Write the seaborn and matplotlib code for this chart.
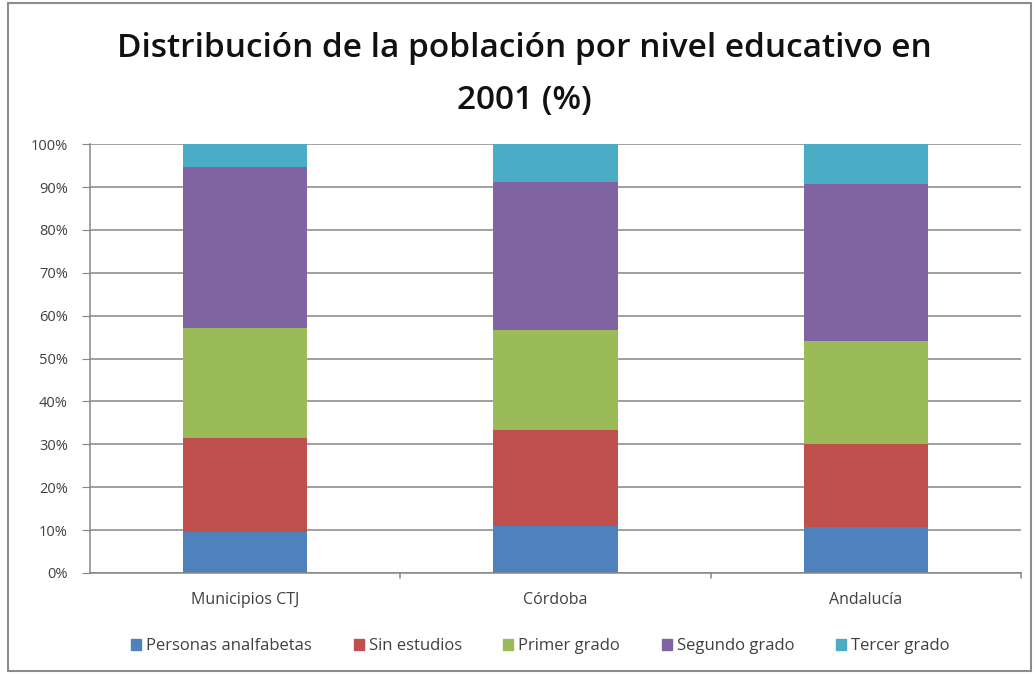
import numpy as np
import pandas as pd
import matplotlib
matplotlib.use('Agg')
import matplotlib.pyplot as plt
import matplotlib.patches as mpatches
from matplotlib.ticker import FixedLocator, PercentFormatter
import seaborn as sns

# data (percent of population)
zonas = ['Municipios CTJ', 'Córdoba', 'Andalucía']
niveles = ['Personas analfabetas', 'Sin estudios', 'Primer grado', 'Segundo grado', 'Tercer grado']
analfabetas = [9.6, 10.9, 10.8]
sin_estudios = [21.8, 22.4, 19.2]
primer_grado = [25.8, 23.4, 24.2]
segundo_grado = [37.6, 34.6, 36.5]
tercer_grado = [5.2, 8.7, 9.3]

colores = ['#4F81BD', '#C0504D', '#9BBB59', '#8064A2', '#4BACC6']

sns.set_style('white')
plt.rcParams['font.family'] = ['Open Sans', 'DejaVu Sans']

series = [analfabetas, sin_estudios, primer_grado, segundo_grado, tercer_grado]
df = pd.DataFrame({'zona': zonas})
for name, vals in zip(niveles, series):
	df[name] = vals

fig = plt.figure(figsize=(10.35, 6.74), dpi=100)
ax = fig.add_axes([0.087, 0.150, 0.8995, 0.636])

bottom = np.zeros(len(zonas))
for name, col in zip(niveles, colores):
	sns.barplot(x='zona', y=name, data=df, color=col, width=0.4, bottom=bottom, ax=ax,
		saturation=1, linewidth=0, legend=False)
	bottom = bottom + df[name].values

ax.set_ylim(0, 100)
ax.set_xlim(-0.5, 2.5)
ax.yaxis.set_major_locator(FixedLocator(np.arange(0, 101, 10)))
ax.yaxis.set_major_formatter(PercentFormatter(decimals=0))
ax.grid(axis='y', color='#868686', linewidth=1.1)
ax.set_axisbelow(True)
ax.set_xlabel('')
ax.set_ylabel('')
for s in ['top', 'right']:
	ax.spines[s].set_visible(False)
for s in ['left', 'bottom']:
	ax.spines[s].set_color('#868686')
	ax.spines[s].set_linewidth(1.1)
ax.tick_params(axis='y', left=True, length=6, color='#868686', labelsize=10.5, labelcolor='#404040', pad=10)
ax.tick_params(axis='x', bottom=False, labelsize=11.5, labelcolor='#404040', pad=10)
for xb in [0.5, 1.5, 2.5]:
	ax.plot([xb, xb], [0, -1.2], color='#868686', lw=1.1, clip_on=False)

fig.suptitle('Distribución de la población por nivel educativo en\n2001 (%)', x=0.507, y=0.952,
	fontsize=24, fontweight='semibold', color='#111111', linespacing=1.75)

handles = [mpatches.Patch(color=c, label=n) for n, c in zip(niveles, colores)]
fig.legend(handles=handles, loc='center', bbox_to_anchor=(0.522, 0.041), ncol=5, frameon=False,
	fontsize=12, handlelength=0.6, handleheight=0.6, handletextpad=0.3, columnspacing=2.5, labelcolor='#404040')

fig.add_artist(mpatches.Rectangle((0.008, 0.004), 0.988, 0.992, transform=fig.transFigure,
	fill=False, edgecolor='#8c8c8c', linewidth=1.5))

fig.savefig('out.png', dpi=100, facecolor='white')
